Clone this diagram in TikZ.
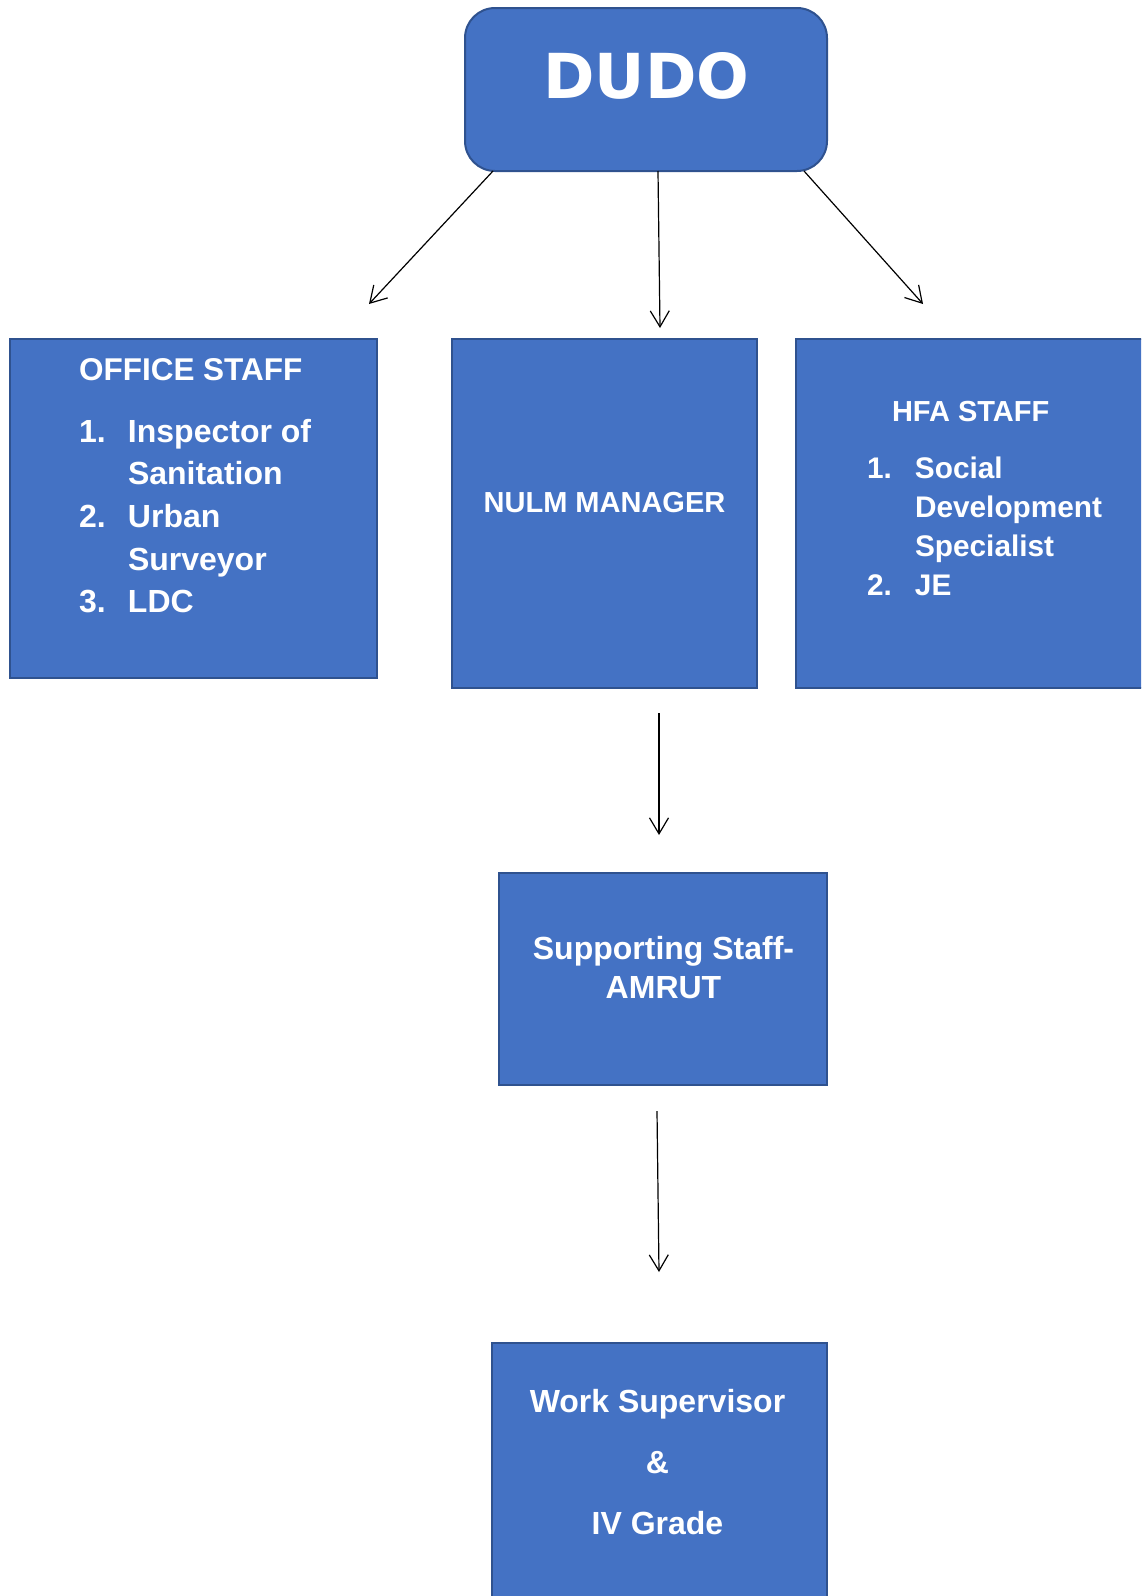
\documentclass[tikz,border=0pt]{standalone}
\usepackage{fontspec}
\setmainfont{Liberation Sans}
\newfontfamily\dejafont{DejaVu Sans}
\usetikzlibrary{arrows.meta}
\definecolor{boxfill}{HTML}{4472C4}
\definecolor{boxline}{HTML}{2F528F}
\begin{document}
\begin{tikzpicture}[x=1pt,y=-1pt,
  box/.style={draw=boxline,fill=boxfill,line width=2pt,inner sep=0pt,outer sep=0pt},
  txt/.style={text=white,inner sep=0pt,outer sep=0pt,font=\bfseries},
  conn/.style={line width=1.2pt,-{Straight Barb[length=16pt,width=19pt]}}]
\useasboundingbox (0,0) rectangle (1141,1596);
\clip (0,0) rectangle (1141,1596);
% boxes
\node[box,rounded corners=30pt,minimum width=362pt,minimum height=163pt] (dudo) at (646,89.5) {};
\node[box,minimum width=367pt,minimum height=339pt] (office) at (193.5,508.5) {};
\node[box,minimum width=305pt,minimum height=349pt] (nulm) at (604.5,513.5) {};
\node[box,minimum width=380pt,minimum height=349pt] (hfa) at (986,513.5) {};
\node[box,minimum width=328pt,minimum height=212pt] (supp) at (663,979) {};
\node[box,minimum width=335pt,minimum height=300pt] (work) at (659.5,1493) {};
% texts
\node[txt,anchor=base,font=\dejafont\bfseries\fontsize{62}{70}\selectfont] (tdudo) at (646.5,98) {DUDO};
\node[txt,anchor=base west,font=\bfseries\fontsize{31.5}{38}\selectfont] (toffh) at (79,380) {OFFICE STAFF};
\node[txt,anchor=base west,font=\bfseries\fontsize{32}{42.7}\selectfont] (toffl) at (79,442)
  {\begin{tabular}[t]{@{}p{49pt}@{}l@{}}1.&Inspector of\\&Sanitation\\2.&Urban\\&Surveyor\\3.&LDC\end{tabular}};
\node[txt,anchor=base,font=\bfseries\fontsize{29}{36}\selectfont] (tnulm) at (604.5,512) {NULM MANAGER};
\node[txt,anchor=base west,font=\bfseries\fontsize{29}{36}\selectfont] (thfah) at (892,421) {HFA STAFF};
\node[txt,anchor=base west,font=\bfseries\fontsize{29.8}{39}\selectfont] (thfal) at (867,478)
  {\begin{tabular}[t]{@{}p{48pt}@{}l@{}}1.&Social\\&Development\\&Specialist\\2.&JE\end{tabular}};
\node[txt,anchor=base,align=center,font=\bfseries\fontsize{32}{39}\selectfont] (tsupp1) at (663.5,959) {Supporting Staff-};
\node[txt,anchor=base,font=\bfseries\fontsize{32}{39}\selectfont] (tsupp2) at (663.5,998) {AMRUT};
\node[txt,anchor=base,font=\bfseries\fontsize{32}{39}\selectfont] (twork1) at (657.5,1412) {Work Supervisor};
\node[txt,anchor=base,font=\bfseries\fontsize{32}{39}\selectfont] (twork2) at (657.5,1473) {\&};
\node[txt,anchor=base,font=\bfseries\fontsize{32}{39}\selectfont] (twork3) at (657.5,1534) {IV Grade};
% connector ends
\coordinate (s1) at (493,171);
\coordinate (e1) at (369,304);
\coordinate (s2) at (658,171);
\coordinate (e2) at (660,328);
\coordinate (s3) at (804,171);
\coordinate (e3) at (923,304);
\coordinate (s4) at (659,713);
\coordinate (e4) at (659,835);
\coordinate (s5) at (657,1111);
\coordinate (e5) at (659,1272);
\draw[conn] (s1) -- (e1);
\draw[conn] (s2) -- (e2);
\draw[conn] (s3) -- (e3);
\draw[conn] (s4) -- (e4);
\draw[conn] (s5) -- (e5);
\end{tikzpicture}
\end{document}
